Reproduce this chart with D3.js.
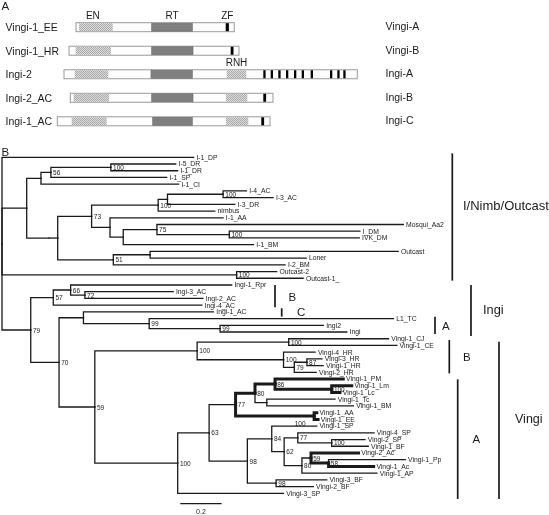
<!DOCTYPE html>
<html><head><meta charset="utf-8">
<script src="https://cdn.jsdelivr.net/npm/d3@7"></script>
<style>
body{margin:0;background:#fff}
svg{display:block;filter:grayscale(1);will-change:transform}
text{font-family:"Liberation Sans",Arial,Helvetica,sans-serif;fill:#1a1a1a}
</style>
</head><body>
<svg id="chart" width="549" height="515"></svg>
<script>
// ================= DATA =================
// Panel A: domain structure (aligned positions, approx. aa)
const domainRows   = ["Vingi-1_EE","Vingi-1_HR","Ingi-2","Ingi-2_AC","Ingi-1_AC"];
const domainGroups = ["Vingi-A","Vingi-B","Ingi-A","Ingi-B","Ingi-C"];
const orfSpans = [[187,1770],[117,1817],[67,3000],[130,2157],[0,2127]];
const enSpans  = [[217,554],[184,537],[174,510],[164,517],[144,494]];
const rtSpans  = [[944,1350],[944,1357],[937,1350],[944,1357],[954,1350]];
const rnhSpans = [null,null,[1694,1890],[1687,1900],[1687,1910]];
const zfSpans  = [
  [[1684,1716]],
  [[1734,1762]],
  [[2060,2083],[2134,2157],[2210,2233],[2287,2310],[2367,2390],[2444,2467],[2534,2557],[2727,2750],[2800,2823],[2860,2883]],
  [[2060,2088]],
  [[2040,2068]]
];
const domainLabels = [["EN",0,"en"],["RT",0,"rt"],["ZF",0,"zf"],["RNH",2,"rnh"]];

// Panel B: phylogeny (Newick, branch lengths in substitutions/site, internal labels = bootstrap)
const treeNewick = `(
 (I-1_DP:0.927,
  (
   (((I-5_DR:0.314,I-1_DR:0.323)100:0.290,I-1_SP:0.560)56:0.048,I-1_CI:0.666):0.069,
   (
    (
     ((((I-4_AC:0.113,I-3_AC:0.242)100:0.269,I-3_DR:0.326):0.045,nimbus:0.274)100:0.322,
     (I-1_AA:0.547,((Mosqui_Aa2:1.192,(I_DM:0.632,IVK_DM:0.629)100:0.350)75:0.163,I-1_BM:0.630):0.064):0.089
    )73:0.164,
    ((Outcast:1.200,Loner:0.755):0.178,I-2_BM:0.831)51:0.269
   ):0.042
  ):0.108
 ):0.1195,
 (Outcast-2:0.194,Outcast-1_:0.322)100:1.135,
 (
  ((Ingi-1_Rpr:0.779,(Ingi-3_AC:0.427,Ingi-2_AC:0.571)72:0.069)66:0.084,Ingi-4_AC:0.719)57:0.109,
  (
   (Ingi-1_AC:0.629,(L1_TC:1.182,(Ingi2:0.500,Ingi:0.613)99:0.343)99:0.318):0.118,
   (
    ((Vingi-1_CJ:0.483,Vingi-1_CE:0.523)100:0.443,
     (Vingi-4_HR:0.153,((Vingi-3_HR:0.073,Vingi-1_HR:0.079)87:0.061,Vingi-2_HR:0.106)79:0.052)100:0.418
    )100:0.495,
    (
     (
      (
       ((Vingi-1_PM:0.330,(Vingi-1_Lm:0.097,Vingi-1_Lc:0.040)100:0.274)86:0.097,
        (Vingi-1_Tc:0.330,Vingi-1_BM:0.419):0.057)80:0.094,
       (Vingi-1_AA:0.013,Vingi-1_EE:0.019)100:0.380
      )77:0.128,
      (
       (Vingi-1_SP:0.218,
        ((Vingi-4_SP:0.369,(Vingi-2_SP:0.161,Vingi-1_BF:0.177)100:0.164)77:0.066,
         ((Vingi-2_Ac:0.230,(Vingi-1_Pp:0.371,Vingi-1_Ac:0.218)58:0.085)59:0.044,Vingi-1_AP:0.363)80:0.086
        )62:0.060
       )84:0.118,
       (Vingi-3_BF:0.245,Vingi-2_BF:0.180)98:0.139
      )98:0.185
     )63:0.152,
     Vingi-3_SP:0.512
    )100:0.401
   )59:0.173
  )70:0.137
 )79:0.139
);`;

// Highlighted (bold) branches, identified by clade (first|last leaf) or leaf name
const boldBranches = ["Vingi-1_PM|Vingi-1_BM","Vingi-1_PM|Vingi-1_Lc","Vingi-1_PM","Vingi-1_Lm|Vingi-1_Lc",
  "Vingi-1_Lm","Vingi-1_Lc","Vingi-1_AA|Vingi-1_EE","Vingi-1_AA","Vingi-1_EE",
  "Vingi-2_Ac","Vingi-1_Pp|Vingi-1_Ac","Vingi-1_Ac"];

// Clade brackets
const cladeNames = ["I/Nimb/Outcast","Ingi","B","C","A","Vingi","B","A"];
const cladeFirst = ["I-1_DP","Ingi-1_Rpr","Ingi-1_Rpr","Ingi-1_AC","L1_TC","Vingi-1_CJ","Vingi-1_CJ","Vingi-1_PM"];
const cladeLast  = ["Outcast-1_","Ingi","Ingi-4_AC","Ingi-1_AC","Ingi","Vingi-3_SP","Vingi-2_HR","Vingi-3_SP"];

const scaleBarValue = 0.2;

// ================= LAYOUT =================
const svg = d3.select("#chart");
const INK = "#1a1a1a";
svg.append("rect").attr("width",549).attr("height",515).attr("fill","#fff");

// ---------- Panel A ----------
svg.append("text").attr("x",1.5).attr("y",10).attr("font-size",11.5).text("A");

const defs = svg.append("defs");
const pat = defs.append("pattern").attr("id","hatch").attr("width",2).attr("height",2).attr("patternUnits","userSpaceOnUse");
pat.append("rect").attr("width",2).attr("height",2).attr("fill","#dedede");
pat.append("rect").attr("width",1).attr("height",1).attr("fill","#a8a8a8");
pat.append("rect").attr("x",1).attr("y",1).attr("width",1).attr("height",1).attr("fill","#a8a8a8");

const ax = d3.scaleLinear().domain([0,1000]).range([57.3,157.3]);
const ay = d3.scalePoint().domain(domainRows).range([27.2,121.3]);
const barH = 9;

domainRows.forEach((name,i)=>{
  const cy = ay(name);
  const g = svg.append("g");
  g.append("text").attr("x",5.5).attr("y",cy).attr("dy","0.36em").attr("font-size",10.5).text(name);
  g.append("text").attr("x",385.5).attr("y",cy-1).attr("dy","0.36em").attr("font-size",10.5).text(domainGroups[i]);
  g.append("rect").attr("x",ax(orfSpans[i][0])).attr("y",cy-barH/2).attr("width",ax(orfSpans[i][1])-ax(orfSpans[i][0])).attr("height",barH)
    .attr("fill","#fdfdfd").attr("stroke","#9a9a9a").attr("stroke-width",1);
  const box = (s,fill,stroke)=> g.append("rect").attr("x",ax(s[0])).attr("y",cy-barH/2+0.5).attr("width",ax(s[1])-ax(s[0])).attr("height",barH-1)
    .attr("fill",fill).attr("stroke",stroke||"none").attr("stroke-width",0.6);
  box(enSpans[i],"url(#hatch)");
  box(rtSpans[i],"#7f7f7f","#6a6a6a");
  if(rnhSpans[i]) box(rnhSpans[i],"url(#hatch)");
  zfSpans[i].forEach(s=>box(s,"#000"));
});
const spanOf = {en:enSpans, rt:rtSpans, rnh:rnhSpans, zf:zfSpans.map(z=>z[0])};
domainLabels.forEach(([t,row,key])=>{
  const s = spanOf[key][row];
  svg.append("text").attr("x",(ax(s[0])+ax(s[1]))/2 - (key==="en"?3:0)).attr("y",ay(domainRows[row])-12.2)
    .attr("dy","0.36em").attr("text-anchor","middle").attr("font-size",10).text(t);
});

// ---------- Panel B ----------
svg.append("text").attr("x",1.5).attr("y",156).attr("font-size",11.5).text("B");

function parseNewick(str){
  const s = str.replace(/\s+/g,"");
  const ancestors=[]; let tree={};
  const tokens = s.split(/(;|\(|\)|,|:)/).filter(t=>t!=="");
  for(let i=0;i<tokens.length;i++){
    const t=tokens[i];
    if(t==="("){ const sub={}; tree.children=[sub]; ancestors.push(tree); tree=sub; }
    else if(t===","){ const sub={}; ancestors[ancestors.length-1].children.push(sub); tree=sub; }
    else if(t===")"){ tree=ancestors.pop(); }
    else if(t===":"||t===";"){ }
    else {
      const prev=tokens[i-1];
      if(prev===":") tree.length=parseFloat(t); else tree.name=t;
    }
  }
  return tree;
}

const root = d3.hierarchy(parseNewick(treeNewick));
root.eachBefore(n=>{ n.dist = n.parent ? n.parent.dist + (n.data.length||0) : 0; });
const leaves = root.leaves();
const ty = d3.scalePoint().domain(leaves.map(d=>d.data.name)).range([157.3,493.3]);
const tx = d3.scaleLinear().domain([0,1]).range([2,2+206.7]);
root.eachAfter(n=>{
  n.py = n.children ? (n.children[0].py + n.children[n.children.length-1].py)/2 : ty(n.data.name);
  n.px = tx(n.dist);
});
const key = n => n.children ? n.leaves()[0].data.name+"|"+n.leaves()[n.leaves().length-1].data.name : n.data.name;
const boldSet = new Set(boldBranches);

const edges = root.descendants().filter(n=>n.parent);
edges.sort((a,b)=>boldSet.has(key(a)) - boldSet.has(key(b)));
svg.append("g").selectAll("path").data(edges).join("path")
  .attr("d",n=>`M${n.parent.px},${n.parent.py}V${n.py}H${n.px}`)
  .attr("fill","none").attr("stroke",INK)
  .attr("stroke-width",n=>boldSet.has(key(n))?3:1.3)
  .attr("stroke-linecap","square");

// leaf labels
svg.append("g").selectAll("text").data(leaves).join("text")
  .attr("x",n=>n.px+2.8).attr("y",n=>n.py).attr("dy","0.35em")
  .attr("font-size",6.8).text(n=>n.data.name);

// support labels
const supportOffsets = {"Vingi-1_AA|Vingi-1_EE":{anchor:"end",dx:-8.5,dy:7.5}};
const internals = root.descendants().filter(n=>n.children && n.data.name);
svg.append("g").selectAll("text").data(internals).join("text")
  .attr("x",n=>n.px+(supportOffsets[key(n)]?supportOffsets[key(n)].dx:2.2))
  .attr("y",n=>n.py+(supportOffsets[key(n)]?supportOffsets[key(n)].dy:0.3))
  .attr("dy","0.35em").attr("text-anchor",n=>supportOffsets[key(n)]?supportOffsets[key(n)].anchor:"start")
  .attr("font-size",6.5).attr("fill","#333").text(n=>n.data.name);

// scale bar
const sbx = 180.3, sby = 503.7;
svg.append("line").attr("x1",sbx).attr("x2",sbx+tx(scaleBarValue)-tx(0)).attr("y1",sby).attr("y2",sby)
  .attr("stroke",INK).attr("stroke-width",1.3);
svg.append("text").attr("x",sbx+(tx(scaleBarValue)-tx(0))/2).attr("y",511.8).attr("dy","0.35em")
  .attr("text-anchor","middle").attr("font-size",7).text(String(scaleBarValue));

// clade brackets (layout: bar x, label x, pads, font size, label dy)
const bracketLayout = [
  {bx:452.3, lx:463, pt:-4,  pb:2.4, fs:13,  ldy:-11.3},
  {bx:471,   lx:483, pt:0,   pb:4,   fs:12.8,ldy:-1},
  {bx:275,   lx:288.5,pt:0,  pb:2.2, fs:11.5,ldy:0.5},
  {bx:281.7, lx:297, pt:-3.6,pb:4.8, fs:11.5,ldy:-0.8},
  {bx:435,   lx:442, pt:-1.9,pb:2,   fs:11.5,ldy:0.3},
  {bx:499,   lx:515, pt:3,   pb:5.7, fs:12.5,ldy:-2},
  {bx:449.3, lx:463, pt:1.3, pb:1,   fs:11.5,ldy:0},
  {bx:457.7, lx:472.5,pt:0.3,pb:5.7, fs:11.5,ldy:0}
];
cladeNames.forEach((name,i)=>{
  const L = bracketLayout[i];
  const y0 = ty(cladeFirst[i])+L.pt, y1 = ty(cladeLast[i])+L.pb;
  svg.append("line").attr("x1",L.bx).attr("x2",L.bx).attr("y1",y0).attr("y2",y1)
    .attr("stroke",INK).attr("stroke-width",1.7);
  svg.append("text").attr("x",L.lx).attr("y",(y0+y1)/2+L.ldy).attr("dy","0.36em")
    .attr("font-size",L.fs).text(name);
});
</script>
</body></html>
